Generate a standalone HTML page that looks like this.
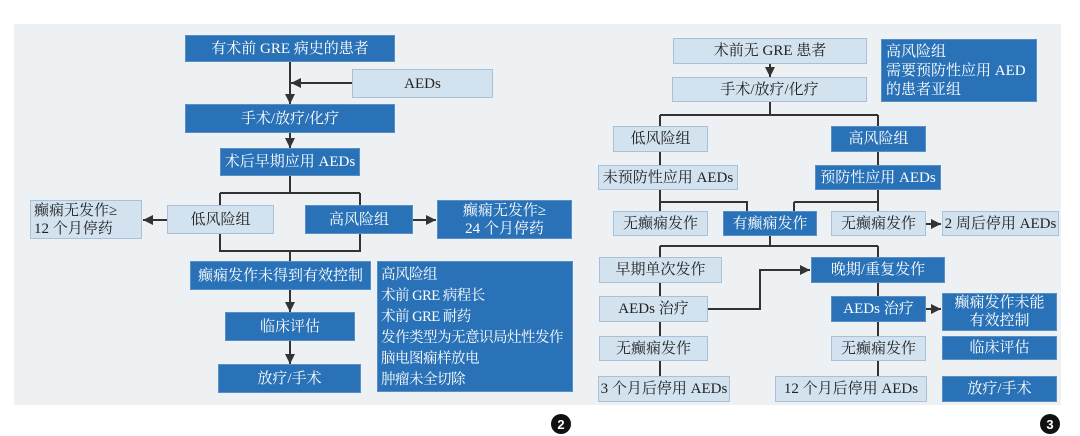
<!DOCTYPE html>
<html><head><meta charset="utf-8"><style>
body{margin:0;width:1080px;height:436px;background:#fff;position:relative;overflow:hidden;font-family:"Liberation Serif","Noto Serif CJK SC",serif;}
.p{position:absolute;left:14px;top:24px;width:1047px;height:381px;background:#eef1f4;}
.b{position:absolute;display:flex;align-items:center;justify-content:center;font-size:15px;box-sizing:border-box;text-align:center;line-height:18px;white-space:nowrap;}
.d{background:#2a72b7;color:#fff;border:1px solid #5a8fc5;}
.l{background:#d2e2ef;color:#222;border:1.5px solid #a9c0d6;}
.t{justify-content:flex-start;text-align:left;align-items:flex-start;padding:3px 4px;line-height:21px;}
.n{position:absolute;width:20px;height:20px;border-radius:50%;background:#111;color:#fff;font:bold 13px "Liberation Sans",sans-serif;display:flex;align-items:center;justify-content:center;}
svg{position:absolute;left:0;top:0}
</style></head><body>
<div class="p"></div>
<svg width="1080" height="436">
<defs><marker id="a" markerWidth="6" markerHeight="6" refX="5" refY="3" orient="auto"><path d="M0,0.5 L5,3 L0,5.5z" fill="#333"/></marker></defs>
<g stroke="#333" stroke-width="2" fill="none">
<path d="M290 62V104" marker-end="url(#a)"/>
<path d="M352 83H291" marker-end="url(#a)"/>
<path d="M290 133V148" marker-end="url(#a)"/>
<path d="M290 176V193M220 193H360M220 193V205M360 193V205"/>
<path d="M167 220H143" marker-end="url(#a)"/>
<path d="M413 220H436" marker-end="url(#a)"/>
<path d="M220 234V251H360V234M290 251V261"/>
<path d="M290 290V312" marker-end="url(#a)"/>
<path d="M290 341V364" marker-end="url(#a)"/>
<path d="M770 64V77" marker-end="url(#a)"/>
<path d="M770 102V115M660 115H878M660 115V126M878 115V126"/>
<path d="M660 152V165M878 152V165"/>
<path d="M660 190V211M660 202H747V211M878 190V211M794 202H878M794 202V211"/>
<path d="M926 224H941" marker-end="url(#a)"/>
<path d="M770 236V246M660 246H878M660 246V257M878 246V257"/>
<path d="M660 283V296M878 283V296"/>
<path d="M708 309H760V270H810" marker-end="url(#a)"/>
<path d="M926 309H941" marker-end="url(#a)"/>
<path d="M660 322V336M878 322V336M660 361V376M878 361V376"/>
</g></svg>
<div class="b d" style="left:185px;top:35px;width:210px;height:27px">有术前 GRE 病史的患者</div>
<div class="b l" style="left:352px;top:69px;width:141px;height:29px">AEDs</div>
<div class="b d" style="left:185px;top:104px;width:210px;height:29px">手术/放疗/化疗</div>
<div class="b d" style="left:220px;top:148px;width:140px;height:28px">术后早期应用 AEDs</div>
<div class="b l" style="left:167px;top:205px;width:107px;height:29px">低风险组</div>
<div class="b d" style="left:305px;top:205px;width:108px;height:29px">高风险组</div>
<div class="b l" style="left:30px;top:200px;width:112px;height:39px;text-align:left;justify-content:flex-start;padding-left:3px">癫痫无发作≥<br>12 个月停药</div>
<div class="b d" style="left:437px;top:200px;width:135px;height:39px">癫痫无发作≥<br>24 个月停药</div>
<div class="b d" style="left:190px;top:261px;width:181px;height:29px">癫痫发作未得到有效控制</div>
<div class="b d" style="left:225px;top:312px;width:130px;height:29px">临床评估</div>
<div class="b d" style="left:218px;top:364px;width:143px;height:29px">放疗/手术</div>
<div class="b d t" style="left:377px;top:261px;width:196px;height:131px;font-size:14.5px;letter-spacing:-0.5px;padding-left:3px">高风险组<br>术前 GRE 病程长<br>术前 GRE 耐药<br>发作类型为无意识局灶性发作<br>脑电图痫样放电<br>肿瘤未全切除</div>
<div class="b l" style="left:673px;top:38px;width:194px;height:26px">术前无 GRE 患者</div>
<div class="b d t" style="left:881px;top:39px;width:156px;height:63px;line-height:19px">高风险组<br>需要预防性应用 AED<br>的患者亚组</div>
<div class="b l" style="left:672px;top:77px;width:195px;height:25px">手术/放疗/化疗</div>
<div class="b l" style="left:613px;top:126px;width:95px;height:26px">低风险组</div>
<div class="b d" style="left:831px;top:126px;width:95px;height:26px">高风险组</div>
<div class="b l" style="left:598px;top:165px;width:140px;height:25px">未预防性应用 AEDs</div>
<div class="b d" style="left:815px;top:165px;width:126px;height:25px">预防性应用 AEDs</div>
<div class="b l" style="left:613px;top:211px;width:95px;height:25px">无癫痫发作</div>
<div class="b d" style="left:723px;top:211px;width:94px;height:25px">有癫痫发作</div>
<div class="b l" style="left:831px;top:211px;width:95px;height:25px">无癫痫发作</div>
<div class="b l" style="left:942px;top:211px;width:117px;height:25px">2 周后停用 AEDs</div>
<div class="b l" style="left:599px;top:257px;width:123px;height:26px">早期单次发作</div>
<div class="b d" style="left:811px;top:257px;width:134px;height:26px">晚期/重复发作</div>
<div class="b l" style="left:599px;top:296px;width:109px;height:26px">AEDs 治疗</div>
<div class="b d" style="left:831px;top:296px;width:95px;height:26px">AEDs 治疗</div>
<div class="b d" style="left:942px;top:293px;width:115px;height:38px">癫痫发作未能<br>有效控制</div>
<div class="b l" style="left:599px;top:336px;width:109px;height:25px">无癫痫发作</div>
<div class="b l" style="left:831px;top:336px;width:95px;height:25px">无癫痫发作</div>
<div class="b d" style="left:942px;top:336px;width:115px;height:24px">临床评估</div>
<div class="b l" style="left:598px;top:376px;width:132px;height:26px">3 个月后停用 AEDs</div>
<div class="b l" style="left:775px;top:376px;width:152px;height:26px">12 个月后停用 AEDs</div>
<div class="b d" style="left:942px;top:376px;width:115px;height:26px">放疗/手术</div>
<div class="n" style="left:551px;top:414px">2</div>
<div class="n" style="left:1040px;top:414px">3</div>
</body></html>
